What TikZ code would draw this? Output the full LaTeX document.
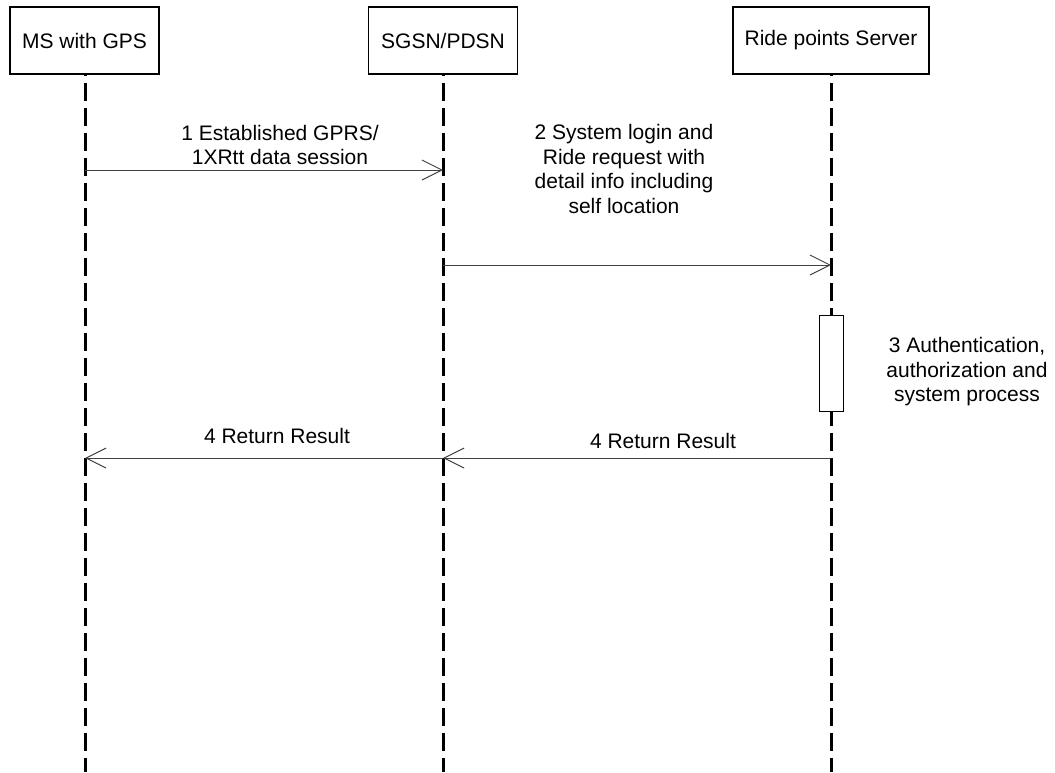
\documentclass[tikz,border=0pt]{standalone}
\usepackage{fontspec}
\setmainfont{Liberation Sans}
\usetikzlibrary{arrows.meta}
\begin{document}
\begin{tikzpicture}[x=1pt,y=-1pt,
  every node/.style={font=\fontsize{21}{24.5}\selectfont, inner sep=0pt},
  actor/.style={draw=black, line width=1.2pt, fill=white, minimum width=149pt, minimum height=67pt},
  lifeline/.style={line width=3pt, dash pattern=on 18pt off 7pt, dash phase=16pt},
  msg/.style={draw=black!75, line width=1pt, -{Straight Barb[length=20pt,width=20pt,line width=1pt]}},
  lbl/.style={align=center},
  actbox/.style={draw=black, line width=1pt, fill=white, minimum width=24pt, minimum height=96pt}]
\useasboundingbox (0,0) rectangle (1055,772);
% actors
\node[actor] (ms) at (84.5,40.5) {MS with GPS};
\node[actor] (sgsn) at (443,40.5) {SGSN/PDSN};
\node[actor, minimum width=196pt] (rps) at (831,40.5) {Ride points Server};
% lifeline ends
\coordinate (msTop) at (85,74);
\coordinate (msBot) at (85,772);
\coordinate (sgTop) at (443,74);
\coordinate (sgBot) at (443,772);
\coordinate (rpTop) at (831,74);
\coordinate (rpBot) at (831,772);
\draw[lifeline] (msTop) -- (msBot);
\draw[lifeline] (sgTop) -- (sgBot);
\draw[lifeline] (rpTop) -- (rpBot);
% activation
\node[actbox] (act) at (831,363) {};
% message points
\coordinate (m1a) at (85,170);
\coordinate (m1b) at (443,170);
\coordinate (m2a) at (443,265);
\coordinate (m2b) at (831,265);
\coordinate (r1a) at (831,458);
\coordinate (r1b) at (443,458);
\coordinate (r2a) at (443,458);
\coordinate (r2b) at (85,458);
\draw[msg] (m1a) -- (m1b);
\draw[msg] (m2a) -- (m2b);
\draw[msg] (r1a) -- (r1b);
\draw[msg] (r2a) -- (r2b);
% labels
\node[lbl] (l1) at (280,145) {1 Established GPRS/\\1XRtt data session};
\node[lbl] (l2) at (624,169) {2 System login and\\Ride request with\\detail info including\\self location};
\node[lbl] (l3) at (967,372) {3 Authentication,\\authorization and\\system process};
\node[lbl] (l4a) at (277,436) {4 Return Result};
\node[lbl] (l4b) at (663,441) {4 Return Result};
\end{tikzpicture}
\end{document}
